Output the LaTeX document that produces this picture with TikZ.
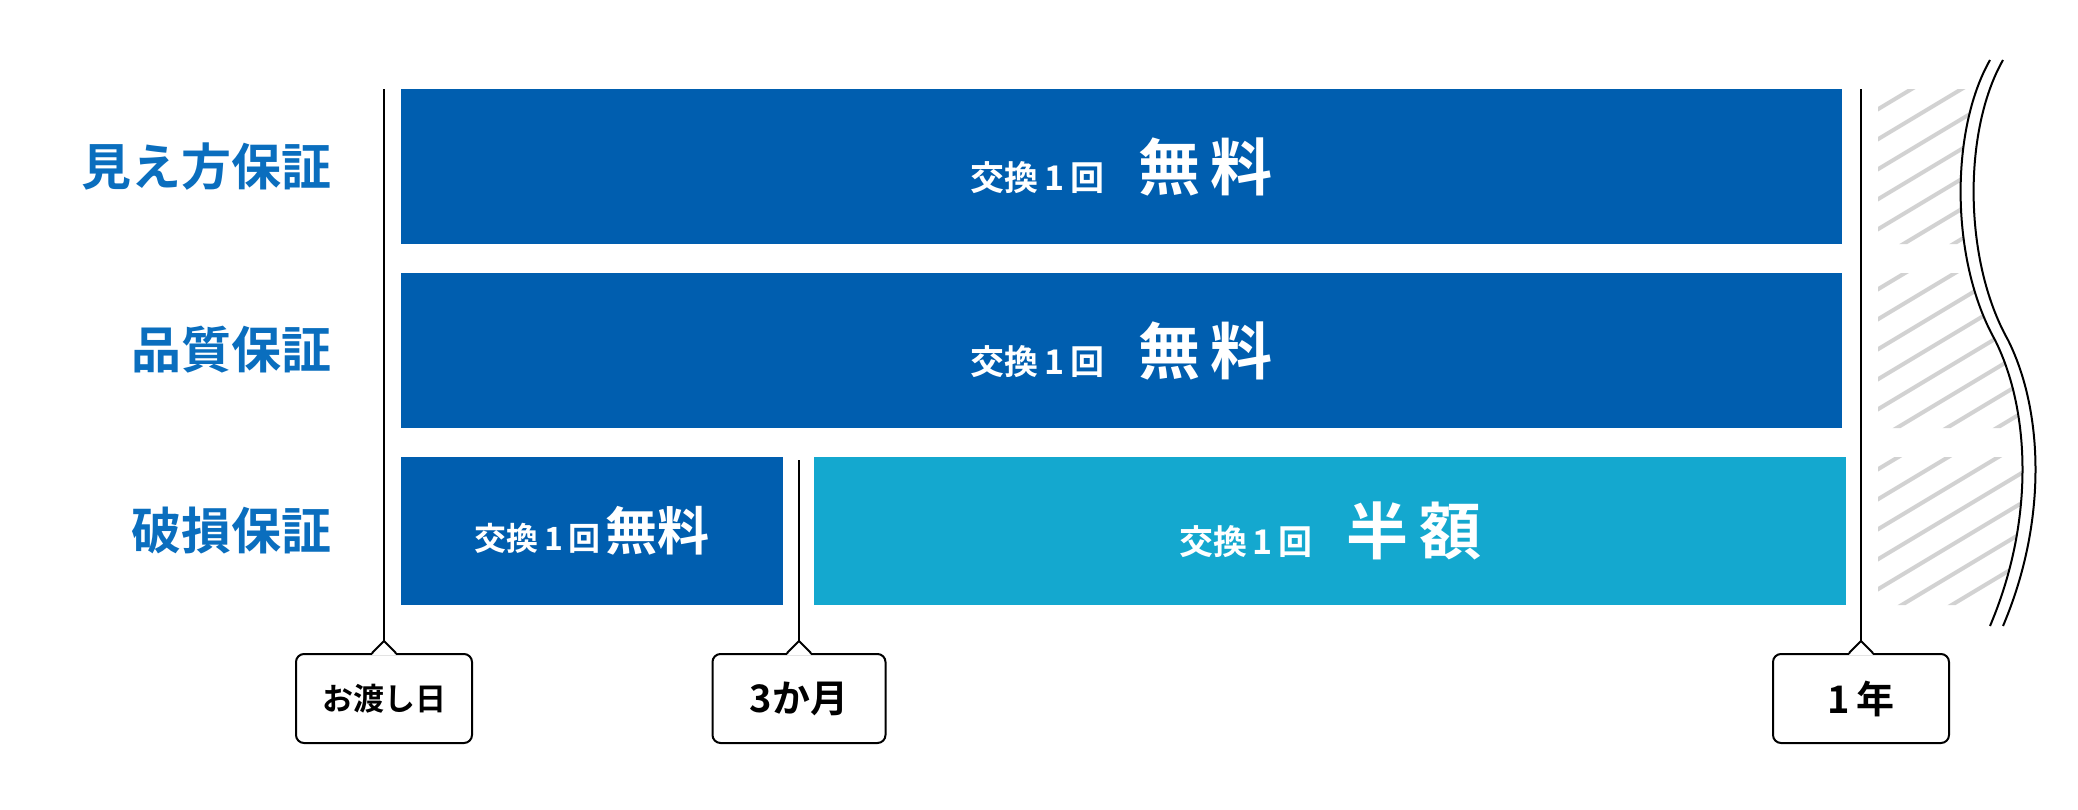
\documentclass[tikz,border=0pt]{standalone}
\usepackage{fontspec}
\newfontfamily\cjk{Noto Sans CJK JP Bold}
\usetikzlibrary{calc}
\definecolor{darkblue}{HTML}{005EAF}
\definecolor{lightblue}{HTML}{14A8CF}
\definecolor{labelblue}{HTML}{0A6EBE}
\tikzset{
  bar/.style={fill=darkblue, inner sep=0pt, anchor=north west},
  rowlabel/.style={text=labelblue, anchor=east, font=\cjk\fontsize{50}{50}\selectfont},
  small/.style={font=\cjk\fontsize{34}{34}\selectfont},
  big/.style={font=\cjk\fontsize{60}{60}\selectfont},
  callout/.style={draw, line width=2pt, rounded corners=8pt, fill=white, minimum height=89pt, inner sep=0pt, anchor=north},
}
\begin{document}
\begin{tikzpicture}[x=1pt, y=-1pt, text=white]
\useasboundingbox (0,0) rectangle (2078,809);
% labels
\node[rowlabel] (L1) at (335,167) {見え方保証};
\node[rowlabel] (L2) at (335,350) {品質保証};
\node[rowlabel] (L3) at (335,531) {破損保証};
% bars
\node[bar, minimum width=1441pt, minimum height=155pt] (B1) at (401,89) {};
\node[bar, minimum width=1441pt, minimum height=155pt] (B2) at (401,273) {};
\node[bar, minimum width=382pt, minimum height=148pt] (B3) at (401,457) {};
\node[bar, fill=lightblue, minimum width=1032pt, minimum height=148pt] (B4) at (814,457) {};
\node (T1) at (B1) {\cjk\fontsize{34}{34}\selectfont 交換\,1\,回\quad\fontsize{62}{62}\selectfont 無\,料};
\node (T2) at (B2) {\cjk\fontsize{34}{34}\selectfont 交換\,1\,回\quad\fontsize{62}{62}\selectfont 無\,料};
\node (T3) at (B3) {\cjk\fontsize{32}{32}\selectfont 交換\,1\,回\,\fontsize{52}{52}\selectfont 無料};
\node (T4) at (B4) {\cjk\fontsize{34}{34}\selectfont 交換\,1\,回\quad\fontsize{62}{62}\selectfont 半\,額};
% hatched part
\begin{scope}
  \clip (1878,89) rectangle (2040,244) (1878,273) rectangle (2040,428) (1878,457) rectangle (2040,605);
  \clip (1878,60) -- (1990,60) .. controls (1950,130) and (1950,260) .. (1995,340) .. controls (2030,410) and (2035,520) .. (1990,626) -- (1878,626) -- cycle;
  \foreach \k in {0,...,30}
    \draw[gray!35, line width=4pt] (1860,60+30*\k) -- +(200,-120);
\end{scope}
% wave
\draw[line width=2pt] (1990,60) .. controls (1950,130) and (1950,260) .. (1995,340) .. controls (2030,410) and (2035,520) .. (1990,626);
\draw[line width=2pt] (2003,60) .. controls (1963,130) and (1963,260) .. (2008,340) .. controls (2043,410) and (2048,520) .. (2003,626);
% time marks
\node[callout, minimum width=176pt, text=black] (C1) at (384,653) {\cjk\fontsize{31}{31}\selectfont お渡し日};
\node[callout, minimum width=173pt, text=black] (C2) at (799,653) {\cjk\fontsize{38}{38}\selectfont 3か月};
\node[callout, minimum width=176pt, text=black] (C3) at (1861,653) {\cjk\fontsize{38}{38}\selectfont 1\,年};
\coordinate (P1) at (384,89);
\coordinate (P2) at (799,460);
\coordinate (P3) at (1861,89);
\foreach \i in {1,2,3} {
  \fill[white] ($(C\i.north)+(-12,2)$) -- ($(C\i.north)+(0,-12)$) -- ($(C\i.north)+(12,2)$) -- cycle;
  \draw[line width=2pt] ($(C\i.north)+(-12,0)$) -- ($(C\i.north)+(0,-12)$) -- ($(C\i.north)+(12,0)$);
  \draw[line width=2pt] (P\i) -- ($(C\i.north)+(0,-12)$);
}
\end{tikzpicture}
\end{document}
